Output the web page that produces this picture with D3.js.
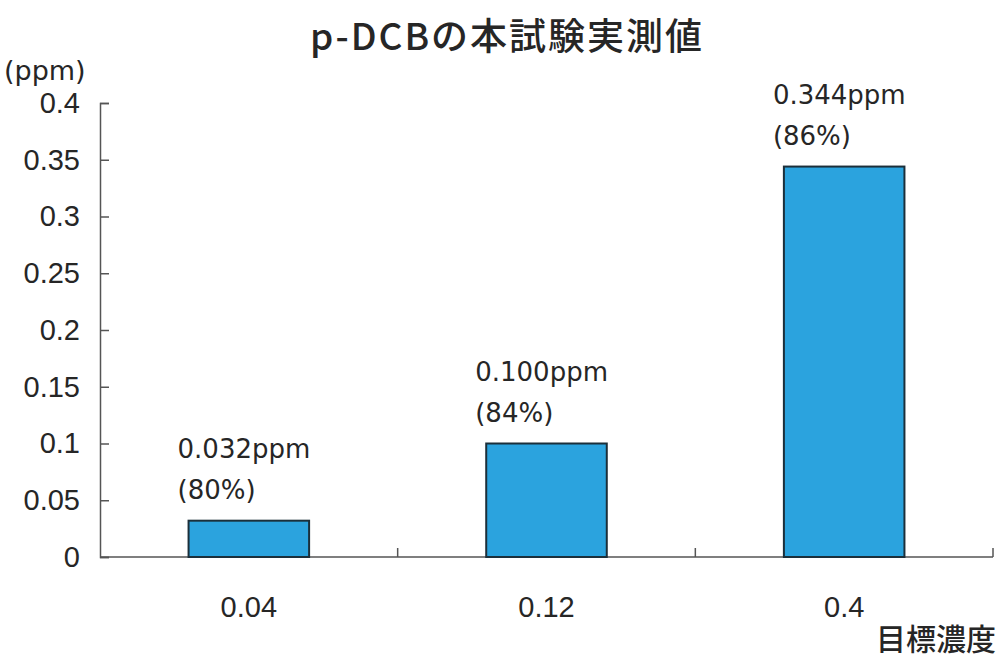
<!DOCTYPE html>
<html>
<head>
<meta charset="utf-8">
<script src="https://cdn.jsdelivr.net/npm/d3@7"></script>
<style>
  body { margin: 0; background: #fff; }
  text { fill: #262626; }
</style>
</head>
<body>
<svg></svg>
<script>
var width = 1003;
var height = 660;

var categories = ['0.04', '0.12', '0.4'];
var values = [0.032, 0.100, 0.344];
var ratios = ['80%', '84%', '86%'];
var yTicks = [0, 0.05, 0.1, 0.15, 0.2, 0.25, 0.3, 0.35, 0.4];

var margin = { left: 100, right: 10, top: 103, bottom: 103 };

var svg = d3.select('svg')
    .attr('width', width)
    .attr('height', height);

var x = d3.scaleBand()
    .domain(categories)
    .range([margin.left, 993])
    .paddingInner(0.595)
    .paddingOuter(0.2975);

var y = d3.scaleLinear()
    .domain([0, 0.4])
    .range([557, 103]);

// y axis, ticks point inward
var yAxis = d3.axisLeft(y)
    .tickValues(yTicks)
    .tickSize(-9)
    .tickFormat(d => d3.format('')(+d.toFixed(2)));

var gy = svg.append('g')
    .attr('transform', 'translate(' + margin.left + ',0)')
    .call(yAxis);
gy.select('.domain').attr('stroke', '#555').attr('stroke-width', 1.5);
gy.selectAll('.tick line').attr('stroke', '#555').attr('stroke-width', 1.5);
gy.selectAll('.tick text')
    .style('font-family', 'Liberation Sans, Arial, sans-serif')
    .style('font-size', '29px')
    .attr('fill', '#262626')
    .attr('x', -20);

// x axis: ticks at category boundaries
var bounds = [x.step(), x.step() * 2, x.step() * 3].map(d => margin.left + d);
svg.append('line')
    .attr('x1', margin.left).attr('x2', 993)
    .attr('y1', y(0)).attr('y2', y(0))
    .attr('stroke', '#555').attr('stroke-width', 1.5);
svg.selectAll('.xtick')
    .data(bounds)
    .enter()
    .append('line')
        .classed('xtick', true)
        .attr('x1', d => d).attr('x2', d => d)
        .attr('y1', y(0)).attr('y2', y(0) - 9)
        .attr('stroke', '#555').attr('stroke-width', 1.5);

svg.selectAll('.xlabel')
    .data(categories)
    .enter()
    .append('text')
        .classed('xlabel', true)
        .attr('x', d => x(d) + x.bandwidth() / 2)
        .attr('y', 617)
        .attr('text-anchor', 'middle')
        .style('font-family', 'Liberation Sans, Arial, sans-serif')
        .style('font-size', '29px')
        .text(d => d);

// bars
svg.selectAll('.bar')
    .data(values)
    .enter()
    .append('rect')
        .classed('bar', true)
        .attr('x', (d, i) => x(categories[i]))
        .attr('y', d => y(d))
        .attr('width', x.bandwidth())
        .attr('height', d => y(0) - y(d))
        .attr('fill', '#2ba3de')
        .attr('stroke', '#1b2f3a')
        .attr('stroke-width', 2);

// value labels
var labels = svg.selectAll('.vlabel')
    .data(values)
    .enter()
    .append('g')
        .classed('vlabel', true)
        .attr('transform', (d, i) => 'translate(' + (x(categories[i]) - 11) + ',' + (y(d) - 63) + ')');
labels.append('text')
    .style('font-family', 'DejaVu Sans, sans-serif')
    .style('font-size', '26px')
    .text(d => d.toFixed(3) + 'ppm');
labels.append('text')
    .attr('y', 41)
    .style('font-family', 'DejaVu Sans, sans-serif')
    .style('font-size', '26px')
    .text((d, i) => '(' + ratios[i] + ')');

// title and axis names
svg.append('text')
    .attr('x', 507)
    .attr('y', 50)
    .attr('text-anchor', 'middle')
    .style('font-family', 'Noto Sans CJK JP, sans-serif')
    .style('font-size', '37px')
    .style('font-weight', 500)
    .style('letter-spacing', '2px')
    .text('p-DCBの本試験実測値');

svg.append('text')
    .attr('x', 4)
    .attr('y', 80)
    .style('font-family', 'DejaVu Sans, sans-serif')
    .style('font-size', '27px')
    .text('(ppm)');

svg.append('text')
    .attr('x', 996)
    .attr('y', 650)
    .attr('text-anchor', 'end')
    .style('font-family', 'Noto Sans CJK JP, sans-serif')
    .style('font-size', '30px')
    .style('font-weight', 500)
    .text('目標濃度');
</script>
</body>
</html>
